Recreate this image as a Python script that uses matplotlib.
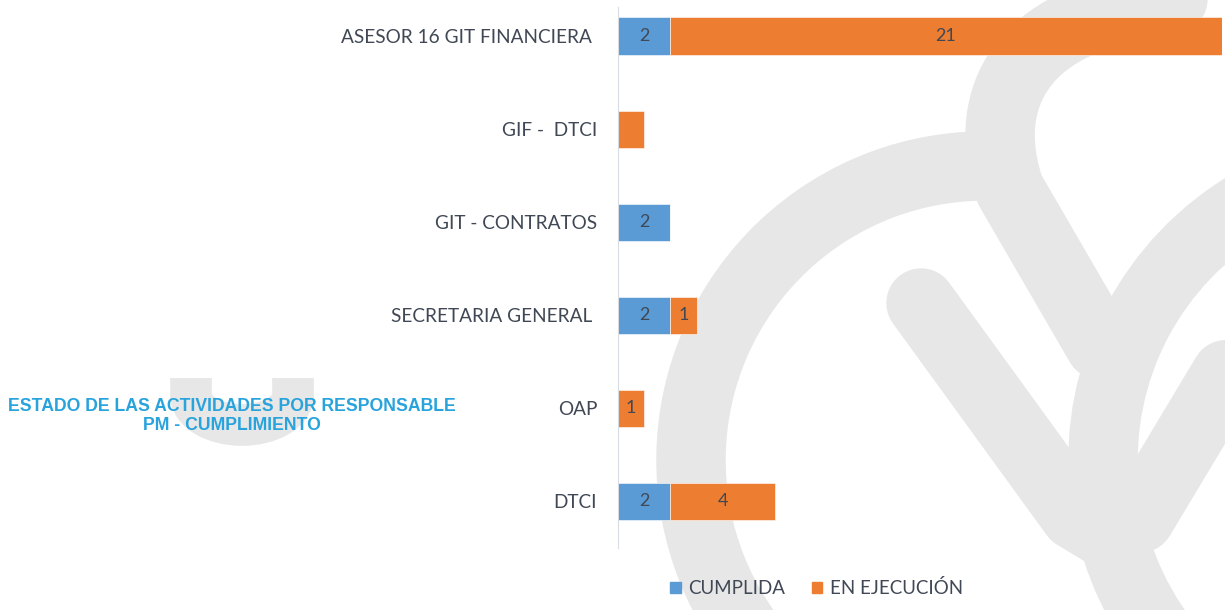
import numpy as np
import matplotlib.pyplot as plt
from matplotlib.patches import Arc, Patch, PathPatch
from matplotlib.path import Path

# data, top to bottom as in the chart
responsables = ["ASESOR 16 GIT FINANCIERA ", "GIF -  DTCI", "GIT - CONTRATOS",
                "SECRETARIA GENERAL ", "OAP", "DTCI"]
cumplida = [2, 0, 2, 2, 0, 2]
en_ejecucion = [21, 1, 0, 1, 1, 4]
cumplida_lbl = ["2", "", "2", "2", "", "2"]
ejecucion_lbl = ["21", "", "", "1", "1", "4"]

azul = "#5b9bd5"
naranja = "#ed7d31"
gris_txt = "#404855"
marca = "#e7e7e7"

fig = plt.figure(figsize=(12.25, 6.1), dpi=100)

# watermark behind the chart (pixel coordinates, y down)
bg = fig.add_axes([0, 0, 1, 1], zorder=0)
bg.set_xlim(0, 1225)
bg.set_ylim(610, 0)
bg.axis("off")
lw = 50
bg.add_patch(Arc((985, 460), 588, 588, theta1=90, theta2=272, lw=lw, color=marca))
bg.add_patch(Arc((1400, 460), 594, 594, theta1=110, theta2=240, lw=lw, color=marca))
bg.plot([921, 1075, 1105, 1140, 1260], [303, 515, 533, 518, 318], color=marca,
        lw=lw, solid_capstyle="round", solid_joinstyle="round")
gancho = Path([(1100, 345), (1010, 190), (985, 120), (1000, 30), (1140, 5), (1250, -15)],
              [Path.MOVETO, Path.LINETO, Path.CURVE4, Path.CURVE4, Path.CURVE4, Path.LINETO])
bg.add_patch(PathPatch(gancho, fill=False, lw=lw, edgecolor=marca, capstyle="round",
                       joinstyle="round"))
# small "U" behind the title
bg.plot([191, 191], [378, 396], color=marca, lw=30, solid_capstyle="butt")
bg.plot([293, 293], [378, 396], color=marca, lw=30, solid_capstyle="butt")
bg.add_patch(Arc((242, 395), 102, 60, theta1=0, theta2=180, lw=30, color=marca))

# chart
ax = fig.add_axes([618 / 1225, 62 / 610, 603.5 / 1225, 541 / 610], zorder=1)
ax.patch.set_alpha(0)
y = np.arange(len(responsables))
b1 = ax.barh(y, cumplida, height=0.4, color=azul, edgecolor="white", linewidth=0.4)
b2 = ax.barh(y, en_ejecucion, left=cumplida, height=0.4, color=naranja,
             edgecolor="white", linewidth=0.4)
ax.bar_label(b1, labels=cumplida_lbl, label_type="center", color=gris_txt,
             fontsize=13, family="Lato")
ax.bar_label(b2, labels=ejecucion_lbl, label_type="center", color=gris_txt,
             fontsize=13, family="Lato")

ax.set_xlim(0, 23)
ax.set_ylim(5.5, -0.312)
ax.set_yticks(y)
ax.set_yticklabels(responsables, fontsize=13.7, family="Lato", color=gris_txt)
ax.tick_params(axis="y", length=0, pad=15)
ax.xaxis.set_visible(False)
for s in ["top", "right", "bottom"]:
    ax.spines[s].set_visible(False)
ax.spines["left"].set_color("#d6dbe4")

fig.text(232 / 1225, 1 - 416 / 610,
         "ESTADO DE LAS ACTIVIDADES POR RESPONSABLE\nPM - CUMPLIMIENTO",
         ha="center", va="center", fontsize=12.7, fontweight="bold",
         family="Liberation Sans", color="#29a3dc", linespacing=1.2, zorder=2)

fig.legend(handles=[Patch(color=azul, label="CUMPLIDA"),
                    Patch(color=naranja, label="EN EJECUCIÓN")],
           loc="center", bbox_to_anchor=(816.5 / 1225, 1 - 588 / 610), ncol=2,
           frameon=False, handlelength=0.55, handleheight=0.55, handletextpad=0.4,
           columnspacing=1.42, prop={"family": "Lato", "size": 13.5},
           labelcolor=gris_txt)

fig.savefig("out.png", dpi=100)
